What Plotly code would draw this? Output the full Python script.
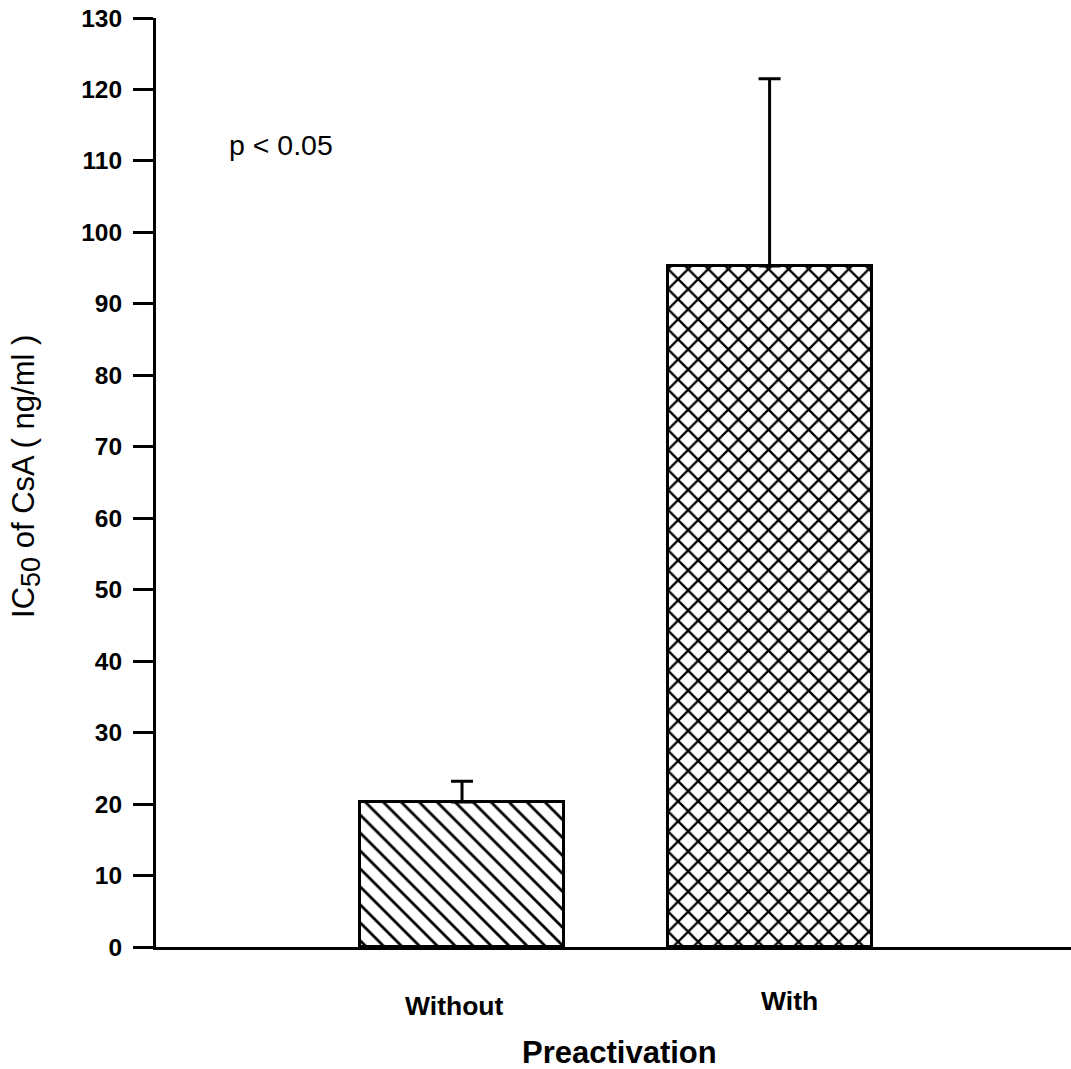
import plotly.graph_objects as go

categories = ["Without", "With"]
means = [20.3, 95.3]
errors_up = [2.9, 26.2]
y_ticks = list(range(0, 131, 10))
x_title = "Preactivation"
y_title = "IC<sub><span style='font-size:27px'>50</span></sub> of CsA ( ng/ml )"
note = "p < 0.05"

FONT = "Liberation Sans, Arial, sans-serif"
xpos = list(range(len(categories)))

fig = go.Figure()
fig.add_trace(go.Bar(
    x=xpos, y=means, width=0.663,
    marker=dict(
        color="white",
        line=dict(color="black", width=3),
        pattern=dict(shape=["\\", "x"], size=[12.7, 14.2], solidity=[0.22, 0.3],
                     fgcolor="black", bgcolor="white", fillmode="replace"),
    ),
    error_y=dict(type="data", array=errors_up, arrayminus=[0] * len(means),
                 symmetric=False, color="black", thickness=3, width=11),
    showlegend=False,
))

fig.update_layout(
    width=1071, height=1069,
    margin=dict(l=156, r=0, t=18, b=122),
    paper_bgcolor="white", plot_bgcolor="white",
    font=dict(family=FONT, color="black"),
    bargap=0,
    xaxis=dict(range=[-0.995, 1.98], showgrid=False, zeroline=False,
               showline=True, linecolor="black", linewidth=3,
               showticklabels=False, ticks=""),
    yaxis=dict(range=[0, 130], tickvals=y_ticks, showgrid=False, zeroline=False,
               showline=True, linecolor="black", linewidth=3,
               ticks="outside", ticklen=20, tickwidth=3, tickcolor="black",
               tickfont=dict(family=FONT, size=24.5, color="black", weight="bold"),
               ticklabelstandoff=6),
)

annotations = [
    dict(text=y_title, x=-0.141, y=0.507, xref="paper", yref="paper",
         textangle=-90, showarrow=False, xanchor="center", yanchor="middle",
         font=dict(family=FONT, size=31)),
    dict(text=note, x=-0.764, y=112.2, xref="x", yref="y", showarrow=False,
         xanchor="left", yanchor="middle", font=dict(family=FONT, size=28.5)),
    dict(text=x_title, x=0.507, y=-0.114, xref="paper", yref="paper",
         showarrow=False, xanchor="center", yanchor="middle",
         font=dict(family=FONT, size=31, weight="bold")),
]
label_offsets = [(-0.026, -0.0635), (0.066, -0.058)]
for i, cat in enumerate(categories):
    dx, yy = label_offsets[i]
    annotations.append(dict(text=cat, x=xpos[i] + dx, y=yy, xref="x", yref="paper",
                            showarrow=False, xanchor="center", yanchor="middle",
                            font=dict(family=FONT, size=26.5, weight="bold")))
fig.update_layout(annotations=annotations)

fig.write_html("out.html")
